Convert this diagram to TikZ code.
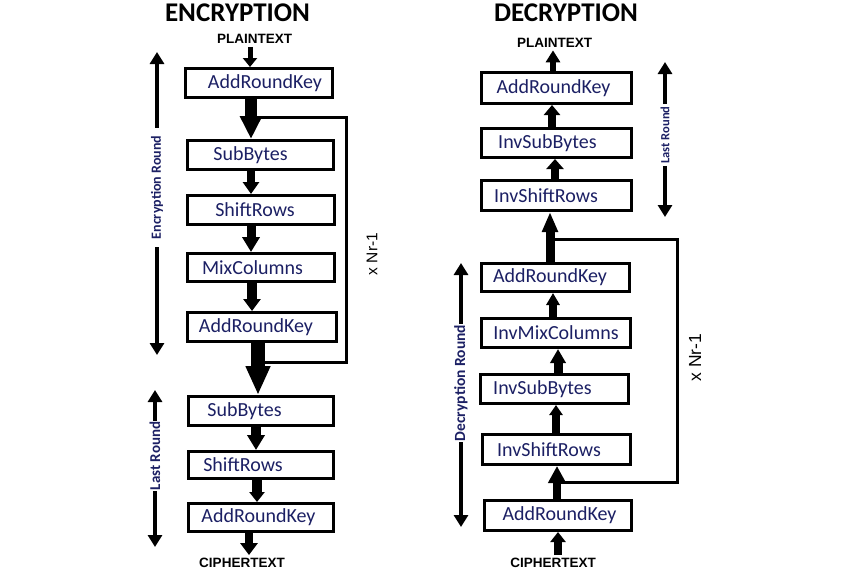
\documentclass[tikz,border=0pt]{standalone}
\usepackage{fontspec}
\setmainfont{Carlito}
\newfontfamily\arialf{Liberation Sans}
\usetikzlibrary{arrows.meta}
\definecolor{navy}{RGB}{28,32,100}
\begin{document}
\begin{tikzpicture}[x=1pt,y=-1pt,
  box/.style={draw, line width=3pt, inner sep=0pt, text=navy,
    font=\fontsize{20}{24}\selectfont},
  heading/.style={font=\bfseries\fontsize{27}{31}\selectfont, inner sep=0pt, anchor=base},
  io/.style={font=\arialf\bfseries\fontsize{13.5}{16}\selectfont, inner sep=3pt},
  flow/.style n args={3}{line width=#1pt, -{Triangle[width=#2pt,length=#3pt]}},
  loopline/.style={line width=3pt},
  side/.style={rotate=90, text=navy, inner ysep=0pt},
  sidearrow/.style={line width=3.5pt, -{Triangle[width=14pt,length=12pt]}},
  rep/.style={rotate=90, font=\arialf\fontsize{#1}{18}\selectfont, inner sep=0pt}
]
\useasboundingbox (0,0) rectangle (850,573);

% ---------------- headings ----------------
\node[heading] (enc) at (237.5,21) {ENCRYPTION};
\node[heading] (dec) at (566,21) {DECRYPTION};

% ---------------- encryption ----------------
\node[io] (ptl) at (254.5,39) {PLAINTEXT};
\node[box, minimum width=147pt, minimum height=29pt] (e1) at (259,83) {\hspace*{12pt}AddRoundKey};
\node[box, minimum width=146pt, minimum height=29pt] (e2) at (260.5,155) {SubBytes\hspace*{20pt}};
\node[box, minimum width=147pt, minimum height=29pt] (e3) at (261,210) {ShiftRows\hspace*{12pt}};
\node[box, minimum width=147pt, minimum height=28pt] (e4) at (261,267.5) {MixColumns\hspace*{17pt}};
\node[box, minimum width=149pt, minimum height=29pt] (e5) at (262,327) {AddRoundKey\hspace*{12pt}};
\node[box, minimum width=145pt, minimum height=29pt] (e6) at (261,411) {SubBytes\hspace*{33pt}};
\node[box, minimum width=145pt, minimum height=27pt] (e7) at (261,465) {ShiftRows\hspace*{36pt}};
\node[box, minimum width=145pt, minimum height=28pt] (e8) at (261,517.5) {AddRoundKey\hspace*{5pt}};
\node[io] (ctl) at (242,563) {CIPHERTEXT};

\coordinate (xa) at (250,0);
\coordinate (xb) at (251,0);
\coordinate (xc) at (252,0);
\coordinate (xd) at (258,0);
\coordinate (xe) at (256,0);
\coordinate (xf) at (257,0);
\coordinate (xg) at (249,0);

\draw[flow={5}{14}{9}]  (ptl.south -| xa) -- (e1.north -| xa);
\draw[flow={12}{21}{23}] (e1.south -| xb) -- (e2.north -| xb);
\draw[flow={8}{16}{12}] (e2.south -| xb) -- (e3.north -| xb);
\draw[flow={9}{17}{15}] (e3.south -| xb) -- (e4.north -| xb);
\draw[flow={10}{17}{12}] (e4.south -| xc) -- (e5.north -| xc);
\draw[flow={14}{23}{29}] (e5.south -| xd) -- (e6.north -| xd);
\draw[flow={10}{17}{15}] (e6.south -| xe) -- (e7.north -| xe);
\draw[flow={10}{15}{10}] (e7.south -| xf) -- (e8.north -| xf);
\draw[flow={8}{17}{12}] (e8.south -| xg) -- (ctl.north -| xg);

\coordinate (la) at (257,117);
\coordinate (lb) at (346,117);
\coordinate (lc) at (346,362);
\coordinate (ld) at (262,362);
\draw[loopline] (la) -- (lb) -- (lc) -- (ld);
\node[rep=15.5] (nrl) at (372,254) {x Nr-1};

\node[side, inner xsep=8pt, font=\bfseries\fontsize{14}{16}\selectfont] (encr) at (157,187.5) {Encryption Round};
\coordinate (encT) at (157,52);
\coordinate (encB) at (157,355);
\draw[sidearrow] (encr.east) -- (encT);
\draw[sidearrow] (encr.west) -- (encB);

\node[side, inner xsep=1pt, font=\bfseries\fontsize{15}{17}\selectfont] (lrl) at (155,456) {Last Round};
\coordinate (lrlT) at (155,390);
\coordinate (lrlB) at (155,547);
\draw[sidearrow] (lrl.east) -- (lrlT);
\draw[sidearrow] (lrl.west) -- (lrlB);

% ---------------- decryption ----------------
\node[io] (ptr) at (554.5,42.5) {PLAINTEXT};
\node[box, minimum width=150pt, minimum height=31pt] (r1) at (556.5,88) {AddRoundKey\hspace*{6pt}};
\node[box, minimum width=150pt, minimum height=29pt] (r2) at (556.5,143) {InvSubBytes\hspace*{18pt}};
\node[box, minimum width=150pt, minimum height=30pt] (r3) at (556.5,195.5) {InvShiftRows\hspace*{21pt}};
\node[box, minimum width=148pt, minimum height=28pt] (r4) at (555.5,277.5) {AddRoundKey\hspace*{11pt}};
\node[box, minimum width=149pt, minimum height=29pt] (r5) at (556,333) {InvMixColumns};
\node[box, minimum width=148pt, minimum height=29pt] (r6) at (554.5,389) {InvSubBytes\hspace*{24pt}};
\node[box, minimum width=148pt, minimum height=30pt] (r7) at (556.5,449.5) {InvShiftRows\hspace*{15pt}};
\node[box, minimum width=147pt, minimum height=30pt] (r8) at (558,515.5) {\hspace*{3pt}AddRoundKey};
\node[io] (ctr) at (553,563) {CIPHERTEXT};

\coordinate (ya) at (553,0);
\coordinate (yb) at (552,0);
\coordinate (yc) at (555,0);
\coordinate (yd) at (550,0);
\coordinate (ye) at (558,0);
\coordinate (yf) at (556,0);
\coordinate (yg) at (557,0);

\draw[flow={6}{14}{12}] (r1.north -| ya) -- (ptr.south -| ya);
\draw[flow={8}{16}{10}] (r2.north -| yb) -- (r1.south -| yb);
\draw[flow={8}{17}{10}] (r3.north -| yc) -- (r2.south -| yc);
\draw[flow={9}{15}{20}] (r4.north -| yd) -- (r3.south -| yd);
\draw[flow={8}{13}{12}] (r5.north -| ya) -- (r4.south -| ya);
\draw[flow={9}{15}{14}] (r6.north -| ye) -- (r5.south -| ye);
\draw[flow={8}{13}{10}] (r7.north -| yf) -- (r6.south -| yf);
\draw[flow={8}{17}{17}] (r8.north -| yg) -- (r7.south -| yg);
\draw[flow={8}{15}{10}] (ctr.north -| ye) -- (r8.south -| ye);

\coordinate (ra) at (550,239);
\coordinate (rb) at (677,239);
\coordinate (rc) at (677,482);
\coordinate (rd) at (557,482);
\draw[loopline] (ra) -- (rb) -- (rc) -- (rd);
\node[rep=17.5] (nrr) at (695,357.5) {x Nr-1};

\node[side, inner xsep=2pt, font=\bfseries\fontsize{12.5}{14}\selectfont] (lrr) at (665,135) {Last Round};
\coordinate (lrrT) at (665,62);
\coordinate (lrrB) at (665,217);
\draw[sidearrow] (lrr.east) -- (lrrT);
\draw[sidearrow] (lrr.west) -- (lrrB);

\node[side, inner xsep=1pt, font=\bfseries\fontsize{15.5}{17}\selectfont] (decr) at (461,383) {Decryption Round};
\coordinate (decT) at (461,263);
\coordinate (decB) at (461,527);
\draw[sidearrow] (decr.east) -- (decT);
\draw[sidearrow] (decr.west) -- (decB);
\end{tikzpicture}
\end{document}
